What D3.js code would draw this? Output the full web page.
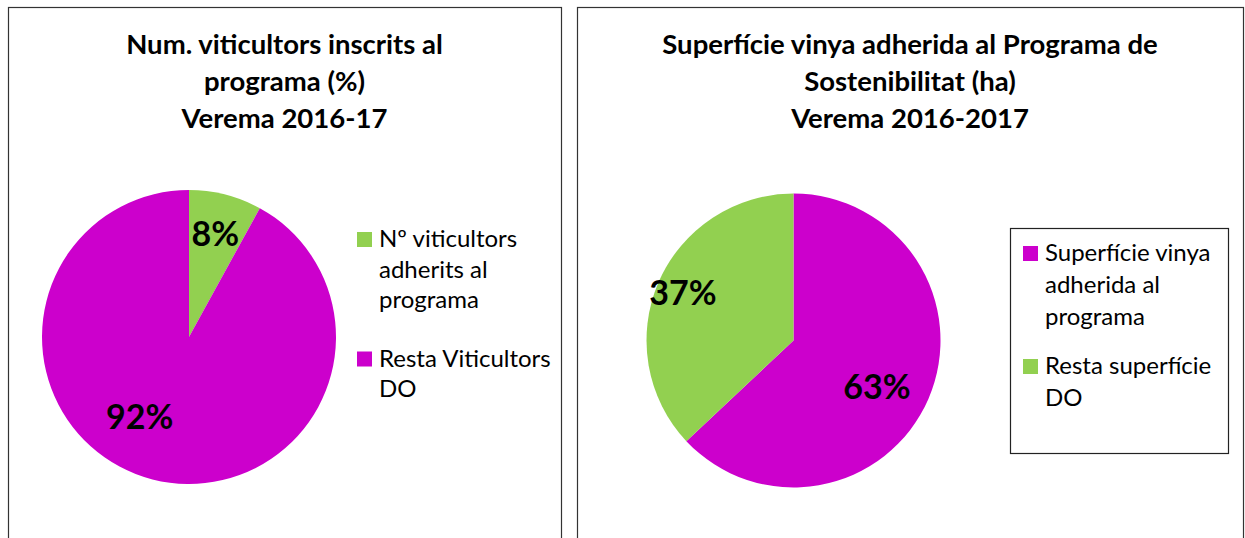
<!DOCTYPE html>
<html>
<head>
  <meta charset="utf-8">
  <title>Viticultors i superfície</title>
  <script src="https://cdn.jsdelivr.net/npm/d3@7"></script>
<style>
body { margin: 0; background: white; }
text { font-family: Lato, "Noto Sans", sans-serif; fill: black; }
.title { font-weight: bold; font-size: 27.5px; }
.pct { font-weight: bold; font-size: 34px; }
.legend { font-size: 24px; }
.panel { fill: white; stroke: #333; stroke-width: 1.2; }
</style>
</head>
<body>
<div id="chart"></div>
<script>
// chart data
var leftTitle = ["Num. viticultors inscrits al", "programa (%)", "Verema 2016-17"];
var leftCategories = ["Nº viticultors adherits al programa", "Resta Viticultors DO"];
var leftLegend = [["Nº viticultors", "adherits al", "programa"], ["Resta Viticultors", "DO"]];
var leftValues = [8, 92];
var leftColors = ["#92D050", "#CC00CC"];

var rightTitle = ["Superfície vinya adherida al Programa de", "Sostenibilitat (ha)", "Verema 2016-2017"];
var rightCategories = ["Superfície vinya adherida al programa", "Resta superfície DO"];
var rightLegend = [["Superfície vinya", "adherida al", "programa"], ["Resta superfície", "DO"]];
var rightValues = [63, 37];
var rightColors = ["#CC00CC", "#92D050"];

var svg = d3.select("#chart").append("svg")
  .attr("width", 1245)
  .attr("height", 538);

function drawPanel(opt) {
  var g = svg.append("g");

  g.append("rect")
    .attr("class", "panel")
    .attr("x", opt.x0 + 0.5)
    .attr("y", 7.5)
    .attr("width", opt.x1 - opt.x0)
    .attr("height", 600);

  var cx = (opt.x0 + opt.x1) / 2;
  g.selectAll(".title")
    .data(opt.title)
    .enter().append("text")
    .attr("class", "title")
    .attr("text-anchor", "middle")
    .attr("x", cx)
    .attr("y", (d, i) => 54 + i * 37)
    .text(d => d);

  var pie = d3.pie().sort(null).value(d => d);
  var arcs = pie(opt.values);
  var arc = d3.arc().innerRadius(0).outerRadius(opt.r);

  var pg = g.append("g")
    .attr("transform", "translate(" + opt.cx + "," + opt.cy + ")");

  pg.selectAll("path")
    .data(arcs)
    .enter().append("path")
    .attr("d", arc)
    .attr("fill", (d, i) => opt.colors[i]);

  var pctFmt = d => Math.round(100 * d.value / d3.sum(opt.values)) + "%";
  pg.selectAll(".pct")
    .data(arcs)
    .enter().append("text")
    .attr("class", "pct")
    .attr("text-anchor", "middle")
    .attr("dy", "0.35em")
    .attr("transform", function (d, i) {
      var a = (d.startAngle + d.endAngle) / 2 + opt.labelNudge[i];
      var rr = opt.r * opt.labelR[i];
      return "translate(" + (rr * Math.sin(a)) + "," + (-rr * Math.cos(a)) + ")";
    })
    .text(pctFmt);

  if (opt.box) {
    g.append("rect")
      .attr("x", opt.box[0] + 0.5)
      .attr("y", opt.box[1] + 0.5)
      .attr("width", opt.box[2])
      .attr("height", opt.box[3])
      .attr("fill", "none")
      .attr("stroke", "#222")
      .attr("stroke-width", 1.2);
  }

  var lg = g.append("g")
    .attr("transform", "translate(" + opt.lx + "," + opt.ly + ")");
  var item = lg.selectAll(".item")
    .data(opt.legend)
    .enter().append("g")
    .attr("class", "item")
    .attr("transform", (d, i) => "translate(0," + (i === 0 ? 0 : opt.legend[0].length * opt.lh + opt.gap) + ")");

  item.append("rect")
    .attr("x", 0)
    .attr("y", -7)
    .attr("width", 15)
    .attr("height", 15)
    .attr("fill", (d, i) => opt.colors[i]);

  item.selectAll("text")
    .data(d => d)
    .enter().append("text")
    .attr("class", "legend")
    .attr("x", 22)
    .attr("y", (d, i) => i * opt.lh)
    .attr("dy", "0.35em")
    .text(d => d);
}

drawPanel({
  x0: 8, x1: 561,
  title: leftTitle, values: leftValues, colors: leftColors, legend: leftLegend,
  cx: 189, cy: 337, r: 147,
  labelR: [0.72, 0.64], labelNudge: [0, 0.3],
  lx: 357, ly: 239, lh: 30.5, gap: 28
});

drawPanel({
  x0: 577, x1: 1243,
  title: rightTitle, values: rightValues, colors: rightColors, legend: rightLegend,
  cx: 793.5, cy: 340.5, r: 147,
  labelR: [0.65, 0.82], labelNudge: [0.1, 0],
  box: [1010, 228, 218, 225],
  lx: 1023, ly: 253, lh: 32, gap: 17
});
</script>
</body>
</html>
